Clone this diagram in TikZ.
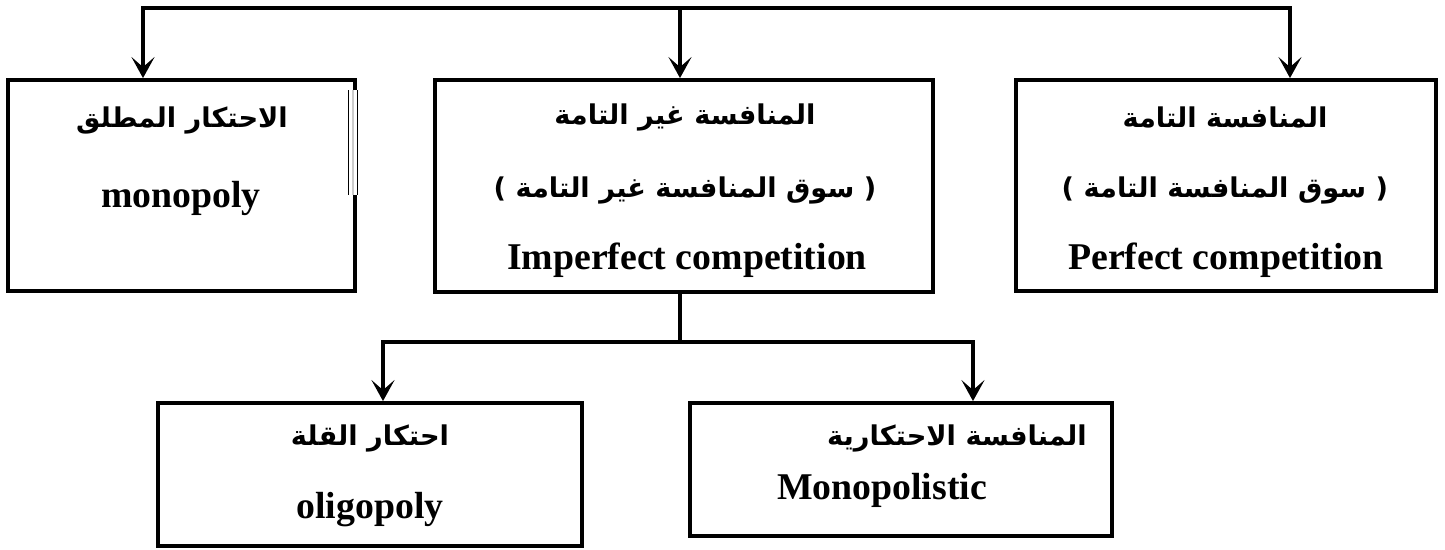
\documentclass[tikz,border=0pt]{standalone}
\usepackage{fontspec}
\setmainfont{Liberation Serif}
\newfontfamily\arabicfont[Script=Arabic]{DejaVu Sans}
\TeXXeTstate=1
\usetikzlibrary{arrows.meta}
\tikzset{
  boxnode/.style={draw, line width=2.2pt, inner sep=0pt},
  line/.style={line width=2.2pt, line join=miter},
  arr/.style={line width=2.2pt, line join=miter, -{Stealth[length=0.42cm,width=0.46cm,inset=0.2cm]}},
  en/.style={font=\fontsize{21.5}{25}\bfseries\selectfont, inner sep=0pt},
  ar/.style={font=\fontsize{15.5}{18}\arabicfont\bfseries, inner sep=0pt}
}
\begin{document}
\begin{tikzpicture}[x=0.02cm,y=-0.02cm]
\useasboundingbox (0,0) rectangle (1445,549);
% boxes
\node[boxnode, minimum width=347*0.02cm, minimum height=211*0.02cm] (mono) at (181.5,185.5) {};
\node[boxnode, minimum width=498*0.02cm, minimum height=212*0.02cm] (imp) at (684,186) {};
\node[boxnode, minimum width=420*0.02cm, minimum height=211*0.02cm] (perf) at (1226,185.5) {};
\node[boxnode, minimum width=424*0.02cm, minimum height=143*0.02cm] (olig) at (370,474.5) {};
\node[boxnode, minimum width=422*0.02cm, minimum height=133*0.02cm] (monc) at (901,469.5) {};
% artifact on left box border
\fill[white] (348,90) rectangle (358,195);
\fill[gray!40] (352,90) rectangle (354,195);
\draw[line width=0.7pt] (348.5,90) -- (348.5,195) (357.5,90) -- (357.5,195);
% texts
\node[ar] (t1a) at (182,120) {\beginR الاحتكار المطلق\endR};
\node[en] (t1b) at (181,198) {monopoly};
\node[ar] (t2a) at (685,117) {\beginR المنافسة غير التامة\endR};
\node[ar] (t2b) at (685,190) {\beginR ( سوق المنافسة غير التامة )\endR};
\node[en] (t2c) at (687,260) {Imperfect competition};
\node[ar] (t3a) at (1225,117) {\beginR المنافسة التامة\endR};
\node[ar] (t3b) at (1225,190) {\beginR ( سوق المنافسة التامة )\endR};
\node[en] (t3c) at (1226,260) {Perfect competition};
\node[ar] (t4a) at (370,438) {\beginR احتكار القلة\endR};
\node[en] (t4b) at (370,510) {oligopoly};
\node[ar] (t5a) at (957,438) {\beginR المنافسة الاحتكارية\endR};
\node[en] (t5b) at (882,490) {Monopolistic};
% connectors
\coordinate (tm) at (680,8);
\coordinate (tl) at (143,8);
\coordinate (tr) at (1290,8);
\coordinate (bm) at (680,342);
\coordinate (bl) at (383,342);
\coordinate (br) at (973,342);
\draw[arr] (tm) -- (tl) -- (tl |- mono.north);
\draw[arr] (tm) -- (tr) -- (tr |- perf.north);
\draw[arr] (tm) -- (tm |- imp.north);
\draw[line] (imp.south -| bm) -- (bm);
\draw[arr] (bm) -- (bl) -- (bl |- olig.north);
\draw[arr] (bm) -- (br) -- (br |- monc.north);
\end{tikzpicture}
\end{document}
